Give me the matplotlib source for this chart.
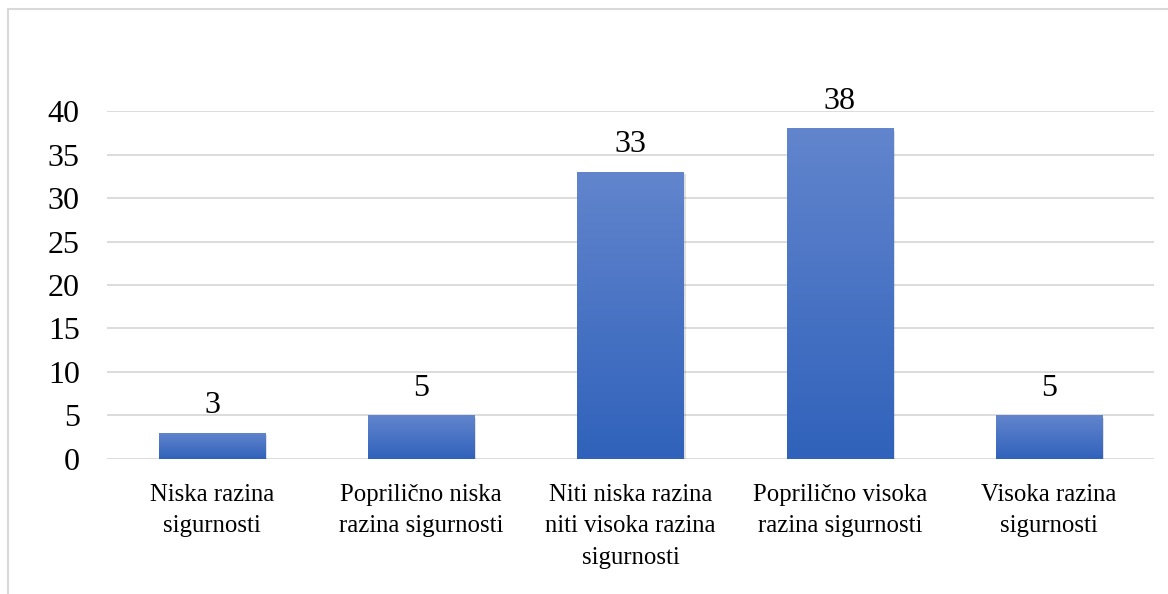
import numpy as np
import matplotlib
matplotlib.use('Agg')
import matplotlib.pyplot as plt
from matplotlib.patches import Rectangle
import matplotlib.patheffects as pe
from matplotlib.colors import LinearSegmentedColormap

categories = ['Niska razina\nsigurnosti',
              'Poprilično niska\nrazina sigurnosti',
              'Niti niska razina\nniti visoka razina\nsigurnosti',
              'Poprilično visoka\nrazina sigurnosti',
              'Visoka razina\nsigurnosti']
values = [3, 5, 33, 38, 5]
y_ticks = [0, 5, 10, 15, 20, 25, 30, 35, 40]

plt.rcParams['font.family'] = ['Liberation Serif', 'DejaVu Serif']

fig = plt.figure(figsize=(11.68, 5.94), dpi=100)
ax = fig.add_axes([0.092, 0.2273, 0.8956, 0.5858])

# chart border (only top and left visible in the picture)
fig.patches.append(Rectangle((8 / 1168, -0.1), 1.2, 1 - 9 / 594 + 0.1,
                             transform=fig.transFigure, fill=False,
                             edgecolor='#d9d9d9', linewidth=1.5))

x = np.arange(len(values))
bars = ax.bar(x, values, width=0.507, color='#4472c4', zorder=2)

cmap = LinearSegmentedColormap.from_list('blue_grad', ['#6285cd', '#3062bb'])
grad = np.linspace(0, 1, 256).reshape(-1, 1)
for b in bars:
    x0, w, h = b.get_x(), b.get_width(), b.get_height()
    b.set_path_effects([pe.SimplePatchShadow(offset=(1.5, -1.5), shadow_rgbFace='#000000', alpha=0.12),
                        pe.Normal()])
    im = ax.imshow(grad, cmap=cmap, aspect='auto', extent=(x0, x0 + w, 0, h),
                   origin='upper', zorder=3)
    im.set_clip_path(b)

for xi, v in zip(x, values):
    ax.annotate(str(v), (xi, v), xytext=(0, 14), textcoords='offset points',
                ha='center', va='baseline', fontsize=23, clip_on=False)

ax.set_xlim(-0.5, len(values) - 0.5)
ax.set_ylim(0, 40)
ax.set_yticks(y_ticks)
ax.set_xticks(x)
ax.set_xticklabels(categories, fontsize=17.8, linespacing=1.55)
ax.tick_params(axis='y', length=0, pad=20, labelsize=23)
ax.tick_params(axis='x', length=0, pad=18)
ax.yaxis.grid(True, color='#d9d9d9', linewidth=1.3, zorder=0)
ax.set_axisbelow(True)
for s in ax.spines.values():
    s.set_visible(False)

fig.savefig('out.png', dpi=100)
